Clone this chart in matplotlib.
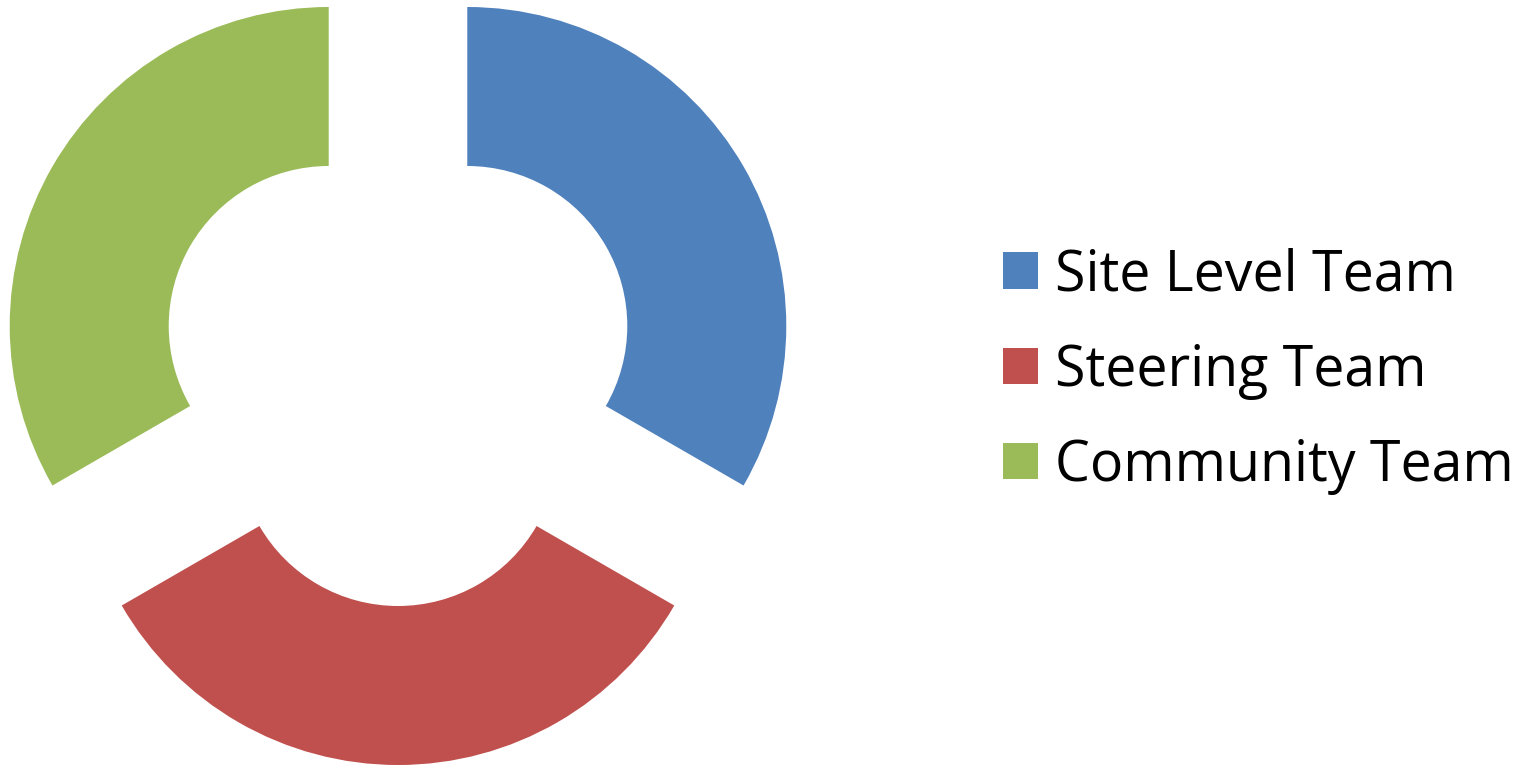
import matplotlib.pyplot as plt

# --- Data -----------------------------------------------------------------
TEAMS = ['Site Level Team', 'Steering Team', 'Community Team']
SHARES = [1, 1, 1]
COLORS = ['#4F81BD', '#C0504D', '#9BBB59']

W, H = 1534, 768
fig = plt.figure(figsize=(W / 100, H / 100), dpi=100, facecolor='white')
ax = fig.add_axes([0, 0, 1, 1])

# pixel-unit axes so the donut geometry can be read straight off the reference
R_OUT = 319
R_IN = 160
wedges, _ = ax.pie(SHARES, colors=COLORS, startangle=90, counterclock=False,
                   radius=R_OUT, center=(398, H - 366), explode=[80] * 3,
                   wedgeprops=dict(width=R_OUT - R_IN, linewidth=0))

ax.set_xlim(0, W)
ax.set_ylim(0, H)
ax.set_aspect('equal')
ax.axis('off')

leg = ax.legend(wedges, TEAMS, loc='center left', bbox_to_anchor=(1003 / W, (H - 371) / H),
                frameon=False, prop={'family': 'Open Sans', 'size': 40},
                handlelength=0.63, handleheight=0.63, handletextpad=0.3,
                labelspacing=0.69, borderpad=0, borderaxespad=0)

fig.savefig('out.png', dpi=100, facecolor='white')
